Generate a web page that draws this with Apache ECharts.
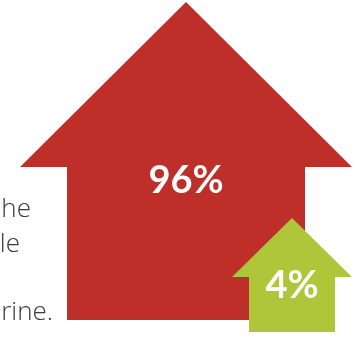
<!DOCTYPE html>
<html>
<head>
<meta charset="utf-8">
<script src="https://cdn.jsdelivr.net/npm/echarts@6/dist/echarts.min.js"></script>
<style>
  html, body { margin: 0; padding: 0; background: #fff; }
  #chart { width: 360px; height: 338px; }
</style>
</head>
<body>
<div id="chart"></div>
<script>
// data
const labels = ['96%', '4%']
const shares = [96, 4]
const sideLines = ['he', 'le', '', 'rine.']

// arrow layout (in px-like axis units): centre x, tip y, head base y, bottom y, head width, shaft width
const arrowBoxes = [
  { cx: 186, tip: 2, neck: 167, bottom: 320, headW: 332, shaftW: 238, labelY: 181 },
  { cx: 292, tip: 218, neck: 277, bottom: 332, headW: 120, shaftW: 86, labelY: 286 },
]
const arrowColors = ['#BF2F29', '#AFC63A']
const lineEnds = [31, 20, 0, 53]
const lineTops = [197, 232, 266, 300]

const chart = echarts.init(document.getElementById('chart'))

function renderArrow(params, api) {
  const b = arrowBoxes[params.dataIndex]
  const pts = [
    [b.cx, b.tip],
    [b.cx + b.headW / 2, b.neck],
    [b.cx + b.shaftW / 2, b.neck],
    [b.cx + b.shaftW / 2, b.bottom],
    [b.cx - b.shaftW / 2, b.bottom],
    [b.cx - b.shaftW / 2, b.neck],
    [b.cx - b.headW / 2, b.neck],
  ].map(p => api.coord(p))
  const c = api.coord([b.cx, b.labelY])
  return {
    type: 'group',
    children: [
      {
        type: 'polygon',
        shape: { points: pts },
        style: { fill: arrowColors[params.dataIndex] },
      },
      {
        type: 'text',
        x: c[0],
        y: c[1],
        style: {
          text: labels[params.dataIndex],
          fill: '#fff',
          font: 'bold 38px Lato',
          align: 'center',
          verticalAlign: 'middle',
        },
      },
    ],
  }
}

chart.setOption({
  animation: false,
  grid: { left: 0, right: 0, top: 0, bottom: 0 },
  xAxis: { type: 'value', min: 0, max: 360, show: false },
  yAxis: { type: 'value', min: 0, max: 338, inverse: true, show: false },
  graphic: sideLines.map((t, i) => ({
    type: 'text',
    x: lineEnds[i],
    y: lineTops[i],
    style: {
      text: t,
      fill: '#3a3a3a',
      font: '300 26px "Open Sans"',
      align: 'right',
      verticalAlign: 'top',
    },
  })),
  series: [
    {
      type: 'custom',
      renderItem: renderArrow,
      data: shares,
      encode: { x: [], y: [] },
    },
  ],
})
</script>
</body>
</html>
